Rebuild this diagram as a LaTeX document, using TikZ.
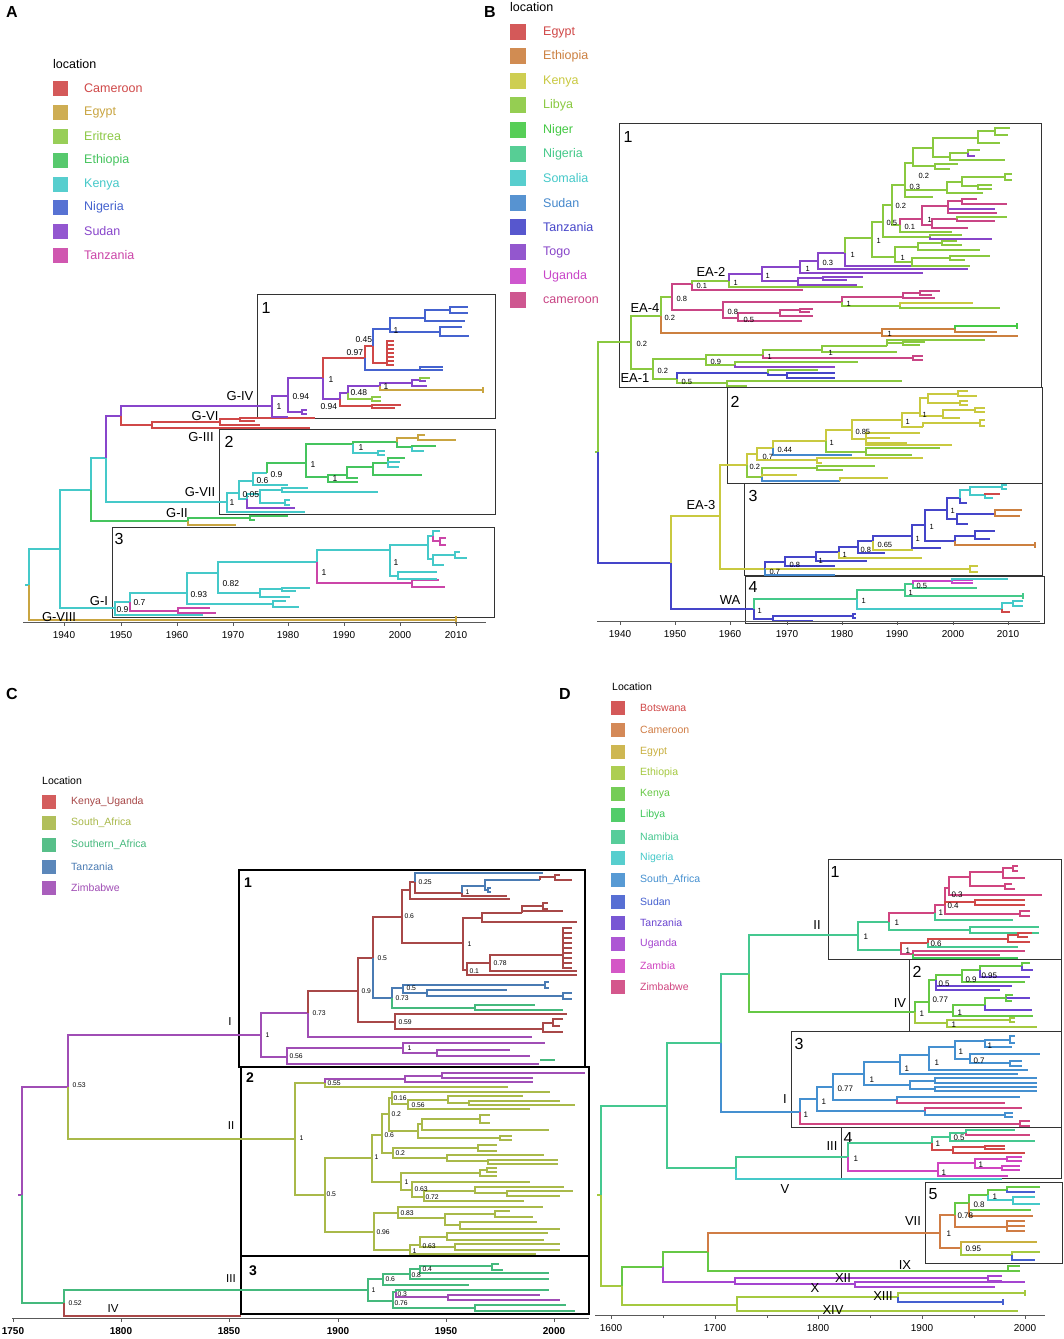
\documentclass[tikz,border=0pt]{standalone}
\usepackage{fontspec}
\setmainfont{Liberation Sans}
% panel A colours
\definecolor{cAcam}{HTML}{D04848}\definecolor{cAegy}{HTML}{C9A541}\definecolor{cAeri}{HTML}{8DC946}
\definecolor{cAeth}{HTML}{45C45E}\definecolor{cAken}{HTML}{45C9C9}\definecolor{cAnig}{HTML}{4563CF}
\definecolor{cAsud}{HTML}{8845CB}\definecolor{cAtan}{HTML}{CB45A8}
% panel B colours
\definecolor{cBegy}{HTML}{D04848}\definecolor{cBeth}{HTML}{CC8040}\definecolor{cBken}{HTML}{C9C940}
\definecolor{cBlib}{HTML}{8AC940}\definecolor{cBnir}{HTML}{45C945}\definecolor{cBnga}{HTML}{45C98A}
\definecolor{cBsom}{HTML}{45C9C9}\definecolor{cBsud}{HTML}{4588CC}\definecolor{cBtan}{HTML}{4545C9}
\definecolor{cBtog}{HTML}{8845C9}\definecolor{cBuga}{HTML}{C945C9}\definecolor{cBcam}{HTML}{C94585}
% panel C colours
\definecolor{cCku}{HTML}{A84848}\definecolor{cCkuL}{HTML}{D04C4C}\definecolor{cCsa}{HTML}{A9B94A}
\definecolor{cCsf}{HTML}{45B97D}\definecolor{cCtz}{HTML}{4A7BB3}\definecolor{cCzw}{HTML}{A04DB5}
% panel D colours
\definecolor{cDbot}{HTML}{D04848}\definecolor{cDcam}{HTML}{D07D45}\definecolor{cDegy}{HTML}{C9B040}
\definecolor{cDeth}{HTML}{A5C940}\definecolor{cDken}{HTML}{66C845}\definecolor{cDlib}{HTML}{40C85A}
\definecolor{cDnam}{HTML}{45C890}\definecolor{cDnga}{HTML}{45C9C9}\definecolor{cDsaf}{HTML}{4590D0}
\definecolor{cDsud}{HTML}{4560D0}\definecolor{cDtan}{HTML}{6A45D0}\definecolor{cDuga}{HTML}{A545D0}
\definecolor{cDzam}{HTML}{D045C0}\definecolor{cDzim}{HTML}{D04580}

\tikzset{
 br/.style={line width=1.2pt},
 acam/.style={br,draw=cAcam},aegy/.style={br,draw=cAegy},aeri/.style={br,draw=cAeri},aeth/.style={br,draw=cAeth},
 aken/.style={br,draw=cAken},anig/.style={br,draw=cAnig},asud/.style={br,draw=cAsud},atan/.style={br,draw=cAtan},
 begy/.style={br,draw=cBegy},beth/.style={br,draw=cBeth},bken/.style={br,draw=cBken},blib/.style={br,draw=cBlib},
 bnir/.style={br,draw=cBnir},bnga/.style={br,draw=cBnga},bsom/.style={br,draw=cBsom},bsud/.style={br,draw=cBsud},
 btan/.style={br,draw=cBtan},btog/.style={br,draw=cBtog},buga/.style={br,draw=cBuga},bcam/.style={br,draw=cBcam},
 cku/.style={br,draw=cCku},csa/.style={br,draw=cCsa},csf/.style={br,draw=cCsf},ctz/.style={br,draw=cCtz},czw/.style={br,draw=cCzw},
 dbot/.style={br,draw=cDbot},dcam/.style={br,draw=cDcam},degy/.style={br,draw=cDegy},deth/.style={br,draw=cDeth},
 dken/.style={br,draw=cDken},dlib/.style={br,draw=cDlib},dnam/.style={br,draw=cDnam},dnga/.style={br,draw=cDnga},
 dsaf/.style={br,draw=cDsaf},dsud/.style={br,draw=cDsud},dtan/.style={br,draw=cDtan},duga/.style={br,draw=cDuga},
 dzam/.style={br,draw=cDzam},dzim/.style={br,draw=cDzim},
 boxst/.style={draw=black!80,line width=1pt},
 boxC/.style={draw=black,line width=1.5pt},
 axl/.style={draw=black!65,line width=0.7pt},
 svA/.style={anchor=west,inner sep=0.3pt,font=\fontsize{8.5}{9}\selectfont},
 svB/.style={anchor=west,inner sep=0.3pt,font=\fontsize{7.5}{8}\selectfont},
 svC/.style={anchor=west,inner sep=0.3pt,font=\fontsize{6.8}{7}\selectfont},
 svD/.style={anchor=west,inner sep=0.3pt,font=\fontsize{8}{8}\selectfont},
 clA/.style={inner sep=0pt,font=\fontsize{13}{13}\selectfont},
 clC/.style={inner sep=0pt,font=\fontsize{11.5}{12}\selectfont},
 bxn/.style={inner sep=0pt,font=\fontsize{16}{16}\selectfont},
 bxnC/.style={inner sep=0pt,font=\fontsize{14}{14}\selectfont\bfseries},
 yr/.style={inner sep=0pt,font=\fontsize{10}{10}\selectfont},
 yrC/.style={inner sep=0pt,font=\fontsize{10}{10}\selectfont\bfseries},
 pl/.style={inner sep=0pt,font=\fontsize{16}{16}\selectfont\bfseries},
 legA/.style={anchor=west,inner sep=0pt,font=\fontsize{12.5}{13}\selectfont},
 legC/.style={anchor=west,inner sep=0pt,font=\fontsize{10.5}{11}\selectfont},
}
\newcounter{nn}
\newcommand\br[5]{\draw[#1] (#2,#3) |- (#4,#5);}
\newcommand\sv[4]{\stepcounter{nn}\node[#1] (n\arabic{nn}) at (#2,#3) {#4};}
\newcommand\lgit[7]{\fill[#3,fill opacity=0.9] (#1,#2-#7) rectangle ++(2*#7,2*#7);
 \stepcounter{nn}\node[#6,text=#3] (n\arabic{nn}) at (#4,#2) {#5};}
\newcommand\tk[4]{\draw[axl] (#1,#2)--(#1,#2+4);\stepcounter{nn}\node[#4] (n\arabic{nn}) at (#1,#2+13) {#3};}

\begin{document}
\begin{tikzpicture}[x=1pt,y=-1pt]
\useasboundingbox (0,0) rectangle (1064,1339);
\fill[white] (0,0) rectangle (1064,1339);

%================ PANEL A ================
\sv{pl}{12}{12}{A}
\sv{legA}{53}{64}{location}
\lgit{53}{88}{cAcam}{84}{Cameroon}{legA}{7.5}
\lgit{53}{112}{cAegy}{84}{Egypt}{legA}{7.5}
\lgit{53}{136}{cAeri}{84}{Eritrea}{legA}{7.5}
\lgit{53}{160}{cAeth}{84}{Ethiopia}{legA}{7.5}
\lgit{53}{184}{cAken}{84}{Kenya}{legA}{7.5}
\lgit{53}{207}{cAnig}{84}{Nigeria}{legA}{7.5}
\lgit{53}{231}{cAsud}{84}{Sudan}{legA}{7.5}
\lgit{53}{255}{cAtan}{84}{Tanzania}{legA}{7.5}

\draw[boxst] (257,294) rectangle (495,418);
\draw[boxst] (219,429) rectangle (495,514);
\draw[boxst] (112,527) rectangle (494,617);
\sv{bxn}{266}{308}{1}\sv{bxn}{229}{442}{2}\sv{bxn}{119}{539}{3}

\draw[aken] (25,585)--(29,585);
\br{aken}{29}{585}{60}{549}
\br{aegy}{29}{585}{456}{620}
\draw[aegy] (456,616)--(456,624);
\br{aken}{60}{549}{91}{490}
\br{aken}{60}{549}{115}{608}
\br{aken}{91}{490}{106}{458}
\br{aeth}{91}{490}{188}{521}
\br{asud}{106}{458}{121}{416}
\br{aken}{106}{458}{227}{502}
\br{asud}{121}{416}{272}{406}
\br{acam}{121}{416}{152}{425}
\br{acam}{152}{425}{220}{422}
\br{acam}{152}{425}{310}{428}
\br{acam}{220}{422}{240}{419}
\br{acam}{220}{422}{260}{425}
\br{acam}{240}{419}{315}{418}
\br{acam}{240}{419}{255}{421}
\br{aeth}{188}{521}{250}{518}
\br{aegy}{188}{521}{236}{525}
\br{aeth}{250}{518}{288}{516}
\br{aeth}{250}{518}{255}{520}
% box 1
\br{asud}{272}{406}{288}{396}
\br{asud}{272}{406}{288}{417}
\br{asud}{288}{396}{323}{378}
\br{asud}{288}{396}{302}{412}
\br{asud}{302}{412}{307}{410}
\br{asud}{302}{412}{307}{414}
\br{acam}{323}{378}{365}{358}
\br{asud}{323}{378}{340}{399}
\br{acam}{365}{358}{373}{346}
\br{anig}{365}{358}{443}{370}
\br{anig}{420}{370}{443}{367}
\br{anig}{373}{346}{390}{329}
\br{acam}{373}{346}{387}{363}
\foreach \yy in {341,345,349,353,357,361,365} {\br{acam}{387}{363}{394}{\yy}}
\br{anig}{390}{329}{425}{318}
\br{anig}{390}{329}{440}{332}
\br{anig}{425}{318}{450}{310}
\br{anig}{425}{318}{465}{321}
\br{anig}{450}{310}{468}{307}
\br{anig}{450}{310}{468}{313}
\br{anig}{440}{332}{462}{327}
\br{anig}{440}{332}{469}{336}
\br{asud}{340}{399}{348}{393}
\br{acam}{340}{399}{372}{406}
\br{acam}{372}{406}{401}{405}
\br{acam}{372}{406}{395}{408}
\br{asud}{348}{393}{380}{386}
\br{aeri}{348}{393}{372}{399}
\br{aeri}{372}{399}{381}{397}
\br{aeri}{372}{399}{381}{401}
\br{asud}{380}{386}{412}{383}
\br{aegy}{380}{386}{483}{390}
\draw[aegy] (483,387)--(483,393);
\br{asud}{412}{383}{420}{380}
\br{asud}{412}{383}{427}{386}
\br{aeri}{420}{380}{430}{378}
\br{asud}{420}{380}{426}{381}
% box 2
\br{aken}{227}{502}{239}{493}
\br{aken}{227}{502}{305}{512}
\br{aken}{239}{493}{253}{481}
\br{aken}{239}{493}{247}{499}
\br{aken}{247}{499}{260}{494}
\br{asud}{247}{499}{295}{508}
\br{aken}{260}{494}{282}{490}
\br{aken}{260}{494}{285}{503}
\br{aken}{282}{490}{308}{488}
\br{aken}{282}{490}{378}{492}
\br{aken}{285}{503}{290}{500}
\br{aken}{285}{503}{290}{505}
\br{aken}{253}{481}{267}{473}
\br{aken}{253}{481}{288}{485}
\br{aeth}{267}{473}{306}{463}
\br{aeth}{306}{463}{353}{444}
\br{aeth}{306}{463}{328}{477}
\br{aeth}{353}{444}{397}{442}
\br{aken}{353}{444}{378}{453}
\br{aken}{378}{453}{385}{451}
\br{aken}{378}{453}{385}{455}
\br{aegy}{397}{442}{418}{438}
\br{aeth}{397}{442}{412}{447}
\br{aegy}{418}{438}{425}{435}
\br{aegy}{418}{438}{456}{440}
\br{aeth}{412}{447}{436}{446}
\br{aken}{412}{447}{424}{451}
\br{aeth}{328}{477}{347}{475}
\br{aeth}{328}{477}{358}{482}
\br{aeth}{347}{475}{373}{467}
\br{aeth}{347}{475}{358}{478}
\br{aeth}{373}{467}{388}{463}
\br{aeth}{373}{467}{422}{475}
\br{aeth}{388}{463}{405}{458}
\br{aken}{388}{463}{400}{462}
\br{aken}{388}{463}{399}{467}
% box 3
\br{aken}{115}{608}{130}{602}
\br{aken}{115}{608}{203}{615}
\br{aken}{130}{602}{187}{593}
\br{atan}{130}{602}{178}{611}
\br{atan}{178}{611}{210}{608}
\br{atan}{178}{611}{216}{613}
\br{aken}{187}{593}{218}{573}
\br{aken}{187}{593}{273}{604}
\br{aken}{273}{604}{286}{601}
\br{aken}{273}{604}{299}{607}
\br{aken}{218}{573}{317}{562}
\br{aken}{218}{573}{260}{593}
\br{aken}{260}{593}{282}{589}
\br{aken}{260}{593}{290}{597}
\br{aken}{282}{589}{310}{588}
\br{aken}{282}{589}{296}{591}
\br{aken}{317}{562}{390}{550}
\br{atan}{317}{562}{412}{583}
\br{atan}{412}{583}{439}{580}
\br{atan}{412}{583}{445}{587}
\br{aken}{390}{550}{428}{545}
\br{aken}{390}{550}{398}{576}
\br{aken}{398}{576}{437}{572}
\br{aken}{398}{576}{437}{579}
\br{aken}{428}{545}{433}{536}
\br{aken}{428}{545}{433}{559}
\br{aken}{433}{536}{440}{531}
\br{atan}{433}{536}{440}{541}
\br{atan}{440}{541}{446}{538}
\br{atan}{440}{541}{446}{545}
\br{aken}{433}{559}{455}{555}
\br{aken}{433}{559}{444}{565}
\br{aken}{455}{555}{467}{558}
\br{aken}{455}{555}{460}{552}
% support values A
\sv{svA}{276}{407}{1}\sv{svA}{292}{397}{0.94}\sv{svA}{328}{380}{1}\sv{svA}{346}{353}{0.97}
\sv{svA}{355}{340}{0.45}\sv{svA}{393}{331}{1}\sv{svA}{320}{407}{0.94}\sv{svA}{350}{393}{0.48}
\sv{svA}{383}{387}{1}
\sv{svA}{358}{448}{1}\sv{svA}{310}{465}{1}\sv{svA}{270}{475}{0.9}\sv{svA}{256}{481}{0.6}
\sv{svA}{332}{479}{1}\sv{svA}{242}{495}{0.05}\sv{svA}{229}{503}{1}
\sv{svA}{393}{563}{1}\sv{svA}{321}{573}{1}\sv{svA}{222}{584}{0.82}\sv{svA}{190}{595}{0.93}
\sv{svA}{133}{603}{0.7}\sv{svA}{116}{610}{0.9}
% clade labels A
\sv{clA}{240}{396}{G-IV}\sv{clA}{205}{416}{G-VI}\sv{clA}{201}{437}{G-III}\sv{clA}{200}{492}{G-VII}
\sv{clA}{177}{513}{G-II}\sv{clA}{99}{601}{G-I}\sv{clA}{59}{617}{G-VIII}
% axis A
\draw[axl] (23,622)--(486,622);
\tk{64}{622}{1940}{yr}\tk{121}{622}{1950}{yr}\tk{177}{622}{1960}{yr}\tk{233}{622}{1970}{yr}
\tk{288}{622}{1980}{yr}\tk{344}{622}{1990}{yr}\tk{400}{622}{2000}{yr}\tk{456}{622}{2010}{yr}

%================ PANEL B ================
\sv{pl}{490}{12}{B}
\sv{legA}{510}{7}{location}
\lgit{510}{32}{cBegy}{543}{Egypt}{legA}{8}
\lgit{510}{56}{cBeth}{543}{Ethiopia}{legA}{8}
\lgit{510}{81}{cBken}{543}{Kenya}{legA}{8}
\lgit{510}{105}{cBlib}{543}{Libya}{legA}{8}
\lgit{510}{130}{cBnir}{543}{Niger}{legA}{8}
\lgit{510}{154}{cBnga}{543}{Nigeria}{legA}{8}
\lgit{510}{178}{cBsom}{543}{Somalia}{legA}{8}
\lgit{510}{203}{cBsud}{543}{Sudan}{legA}{8}
\lgit{510}{227}{cBtan}{543}{Tanzania}{legA}{8}
\lgit{510}{252}{cBtog}{543}{Togo}{legA}{8}
\lgit{510}{276}{cBuga}{543}{Uganda}{legA}{8}
\lgit{510}{300}{cBcam}{543}{cameroon}{legA}{8}

\draw[boxst] (619,123) rectangle (1041,387);
\draw[boxst] (727,387) rectangle (1042,483);
\draw[boxst] (744,483) rectangle (1042,575);
\draw[boxst] (745,576) rectangle (1044,623);
\sv{bxn}{628}{137}{1}\sv{bxn}{735}{402}{2}\sv{bxn}{753}{496}{3}\sv{bxn}{753}{587}{4}

\draw[blib] (595,452)--(598,452);
\br{blib}{598}{452}{631}{342}
\br{btan}{598}{452}{671}{563}
\br{blib}{631}{342}{661}{316}
\br{blib}{631}{342}{653}{369}
\br{blib}{661}{316}{672}{297}
\br{beth}{661}{316}{882}{333}
\br{bcam}{672}{297}{692}{284}
\br{bcam}{672}{297}{723}{310}
\br{blib}{692}{284}{729}{281}
\br{bcam}{692}{284}{803}{290}
\br{btog}{729}{281}{762}{274}
\br{blib}{729}{281}{863}{287}
\br{btog}{762}{274}{800}{267}
\br{btog}{762}{274}{798}{281}
\br{btog}{798}{281}{823}{278}
\br{btog}{798}{281}{857}{285}
\br{btog}{823}{278}{863}{277}
\br{btog}{823}{278}{847}{280}
\br{btog}{800}{267}{818}{261}
\br{btog}{800}{267}{923}{273}
\br{btog}{818}{261}{845}{253}
\br{btog}{818}{261}{968}{269}
\br{blib}{845}{253}{872}{238}
\br{btog}{845}{253}{937}{266}
\br{blib}{872}{238}{883}{222}
\br{blib}{872}{238}{895}{257}
\br{blib}{895}{257}{918}{247}
\br{blib}{895}{257}{912}{262}
\br{blib}{918}{247}{942}{243}
\br{blib}{918}{247}{980}{250}
\br{blib}{942}{243}{957}{241}
\br{blib}{942}{243}{962}{245}
\br{blib}{912}{262}{950}{258}
\br{blib}{912}{262}{970}{266}
\br{blib}{950}{258}{990}{256}
\br{blib}{950}{258}{965}{260}
\br{blib}{883}{222}{892}{205}
\br{blib}{883}{222}{930}{237}
\br{blib}{930}{237}{962}{235}
\br{btog}{930}{237}{992}{239}
\br{blib}{892}{205}{905}{185}
\br{blib}{892}{205}{900}{225}
\br{bcam}{900}{225}{922}{219}
\br{blib}{900}{225}{952}{232}
\br{bcam}{922}{219}{948}{206}
\br{bcam}{922}{219}{932}{225}
\br{bcam}{948}{206}{962}{201}
\br{btog}{948}{206}{995}{209}
\br{bcam}{948}{206}{997}{213}
\br{bcam}{962}{201}{977}{199}
\br{bcam}{962}{201}{1007}{204}
\br{bcam}{932}{225}{957}{219}
\br{bcam}{932}{225}{968}{228}
\br{blib}{957}{219}{1007}{217}
\br{bcam}{957}{219}{995}{221}
\br{blib}{905}{185}{947}{190}
\br{blib}{905}{185}{933}{197}
\br{blib}{947}{190}{962}{182}
\br{blib}{947}{190}{983}{193}
\br{blib}{962}{182}{1005}{177}
\br{blib}{962}{182}{978}{186}
\br{blib}{1005}{177}{1012}{174}
\br{blib}{1005}{177}{1012}{180}
\br{blib}{978}{186}{992}{185}
\br{blib}{978}{186}{992}{189}
\br{blib}{905}{185}{913}{163}
\br{blib}{913}{163}{933}{148}
\br{blib}{913}{163}{935}{166}
\br{blib}{933}{148}{978}{138}
\br{blib}{933}{148}{950}{157}
\br{blib}{978}{138}{995}{131}
\br{blib}{978}{138}{1000}{143}
\br{blib}{995}{131}{1010}{128}
\br{blib}{995}{131}{1008}{135}
\br{blib}{950}{157}{968}{153}
\br{blib}{950}{157}{1005}{160}
\br{btog}{968}{153}{975}{156}
\br{blib}{968}{153}{980}{150}
\br{blib}{935}{166}{958}{164}
\br{blib}{935}{166}{950}{169}
% orange
\br{beth}{882}{333}{955}{329}
\br{beth}{882}{333}{1018}{336}
\br{bnir}{955}{329}{1017}{326}
\br{beth}{955}{329}{997}{332}
\draw[bnir] (1017,323)--(1017,329);
% pink 0.8
\br{bcam}{723}{310}{842}{302}
\br{bcam}{723}{310}{738}{318}
\br{bcam}{842}{302}{903}{297}
\br{blib}{842}{302}{900}{306}
\br{bcam}{903}{297}{920}{293}
\br{bcam}{903}{297}{935}{298}
\br{bcam}{920}{293}{940}{291}
\br{bcam}{920}{293}{932}{295}
\br{bken}{900}{306}{973}{303}
\br{blib}{900}{306}{1000}{308}
\br{bcam}{738}{318}{780}{313}
\br{bcam}{738}{318}{802}{321}
\br{bcam}{780}{313}{800}{310}
\br{bcam}{780}{313}{813}{316}
\br{bcam}{800}{310}{813}{309}
\br{bcam}{800}{310}{810}{312}
% EA-1
\br{blib}{653}{369}{706}{359}
\br{blib}{653}{369}{677}{379}
\br{blib}{706}{359}{763}{355}
\br{blib}{706}{359}{735}{365}
\br{blib}{763}{355}{822}{350}
\br{bcam}{763}{355}{913}{358}
\br{bcam}{913}{358}{923}{356}
\br{bcam}{913}{358}{923}{360}
\br{blib}{822}{350}{887}{346}
\br{blib}{822}{350}{897}{352}
\br{blib}{887}{346}{985}{340}
\br{blib}{887}{346}{903}{343}
\br{blib}{903}{343}{925}{342}
\br{blib}{903}{343}{920}{345}
\br{blib}{735}{365}{858}{362}
\br{btog}{735}{365}{835}{367}
\br{btan}{677}{379}{768}{373}
\br{blib}{677}{379}{727}{383}
\br{btan}{768}{373}{787}{375}
\br{blib}{768}{373}{818}{370}
\br{btan}{787}{375}{835}{373}
\br{btan}{787}{375}{835}{378}
\br{blib}{727}{383}{902}{381}
\br{blib}{727}{383}{747}{386}
% EA-3 box 2
\br{bken}{671}{563}{720}{516}
\br{btan}{671}{563}{754}{609}
\br{bken}{720}{516}{747}{465}
\br{bken}{720}{516}{765}{569}
\br{bken}{747}{465}{757}{454}
\br{blib}{747}{465}{762}{477}
\br{bken}{757}{454}{773}{448}
\br{bken}{757}{454}{817}{460}
\br{bken}{817}{460}{923}{458}
\br{bken}{817}{460}{822}{463}
\br{bken}{773}{448}{826}{441}
\br{bsud}{773}{448}{852}{455}
\br{bken}{826}{441}{852}{430}
\br{blib}{826}{441}{866}{452}
\br{blib}{866}{452}{940}{448}
\br{blib}{866}{452}{912}{455}
\br{bken}{852}{430}{902}{420}
\br{bken}{852}{430}{866}{439}
\br{bken}{866}{439}{920}{433}
\br{bken}{866}{439}{890}{438}
\br{bken}{866}{439}{907}{443}
\br{bken}{866}{439}{952}{445}
\br{bken}{902}{420}{920}{413}
\br{bken}{902}{420}{923}{427}
\br{bken}{920}{413}{928}{398}
\br{bken}{920}{413}{943}{416}
\br{bken}{928}{398}{958}{394}
\br{bken}{928}{398}{960}{403}
\br{bken}{958}{394}{968}{391}
\br{bken}{958}{394}{977}{396}
\br{bken}{960}{403}{968}{401}
\br{bken}{960}{403}{968}{405}
\br{bken}{943}{416}{975}{410}
\br{bken}{943}{416}{960}{418}
\br{bken}{975}{410}{985}{408}
\br{bken}{975}{410}{985}{412}
\br{bken}{923}{427}{980}{423}
\br{bken}{980}{423}{985}{420}
\br{bken}{980}{423}{985}{426}
\br{blib}{762}{477}{817}{468}
\br{bsud}{762}{477}{840}{481}
\br{bken}{762}{477}{797}{475}
\br{blib}{817}{468}{875}{466}
\br{blib}{817}{468}{843}{470}
\br{bken}{840}{481}{888}{478}
% box 3
\br{btan}{765}{569}{785}{562}
\draw[bken] (765,569)--(970,569);
\br{bsud}{765}{569}{835}{575}
\br{bken}{970}{569}{978}{566}
\br{bken}{970}{569}{978}{572}
\br{btan}{785}{562}{816}{557}
\br{btan}{785}{562}{835}{566}
\br{btan}{816}{557}{839}{552}
\br{btan}{816}{557}{867}{561}
\br{btan}{839}{552}{858}{547}
\br{bken}{839}{552}{922}{558}
\br{btan}{858}{547}{873}{541}
\br{btan}{858}{547}{885}{553}
\br{btan}{873}{541}{912}{536}
\br{bken}{873}{541}{913}{550}
\br{btan}{912}{536}{925}{525}
\br{btan}{912}{536}{941}{548}
\br{btan}{925}{525}{947}{510}
\br{btan}{925}{525}{955}{541}
\br{btan}{947}{510}{960}{498}
\br{btan}{947}{510}{957}{519}
\br{bsom}{960}{498}{970}{490}
\br{btan}{960}{498}{967}{503}
\br{bsom}{970}{490}{1002}{487}
\br{bsom}{970}{490}{985}{495}
\br{begy}{985}{495}{1000}{494}
\br{bsom}{985}{495}{993}{498}
\br{bsom}{1002}{487}{1007}{485}
\br{bsom}{1002}{487}{1007}{489}
\br{btan}{957}{519}{995}{514}
\br{btan}{957}{519}{968}{524}
\br{beth}{995}{514}{1022}{510}
\br{beth}{995}{514}{1020}{516}
\br{btan}{955}{541}{975}{536}
\br{beth}{955}{541}{1035}{545}
\br{btan}{975}{536}{995}{531}
\br{btan}{975}{536}{990}{539}
\draw[beth] (1035,542)--(1035,548);
% WA
\br{bnga}{754}{609}{857}{599}
\br{btan}{754}{609}{773}{619}
\br{btan}{773}{619}{853}{616}
\br{btan}{773}{619}{813}{621}
\br{btan}{853}{616}{856}{614}
\br{btan}{853}{616}{856}{618}
\br{bnga}{857}{599}{905}{590}
\br{bsom}{857}{599}{1002}{609}
\br{bnga}{905}{590}{913}{584}
\br{bnga}{905}{590}{1023}{596}
\br{buga}{913}{584}{952}{581}
\br{bnga}{913}{584}{977}{588}
\br{buga}{952}{581}{973}{580}
\br{bsom}{952}{581}{1008}{579}
\br{buga}{952}{581}{973}{583}
\draw[bnga] (1023,593)--(1023,599);
\br{bsom}{1002}{609}{1013}{603}
\br{begy}{1002}{609}{1010}{612}
\br{bsom}{1013}{603}{1023}{601}
\br{bsom}{1013}{603}{1023}{606}
% support values B
\sv{svB}{636}{344}{0.2}\sv{svB}{664}{318}{0.2}\sv{svB}{676}{299}{0.8}\sv{svB}{696}{286}{0.1}
\sv{svB}{733}{283}{1}\sv{svB}{765}{276}{1}\sv{svB}{805}{269}{1}\sv{svB}{822}{263}{0.3}
\sv{svB}{850}{255}{1}\sv{svB}{876}{241}{1}\sv{svB}{886}{223}{0.5}\sv{svB}{895}{206}{0.2}
\sv{svB}{904}{227}{0.1}\sv{svB}{927}{220}{1}\sv{svB}{909}{187}{0.3}\sv{svB}{918}{176}{0.2}
\sv{svB}{900}{258}{1}\sv{svB}{727}{312}{0.8}\sv{svB}{846}{304}{1}\sv{svB}{743}{320}{0.5}
\sv{svB}{887}{334}{1}\sv{svB}{657}{371}{0.2}\sv{svB}{710}{362}{0.9}\sv{svB}{767}{357}{1}
\sv{svB}{828}{353}{1}\sv{svB}{681}{382}{0.5}
\sv{svB}{749}{467}{0.2}\sv{svB}{762}{457}{0.7}\sv{svB}{777}{450}{0.44}\sv{svB}{829}{443}{1}
\sv{svB}{855}{432}{0.85}\sv{svB}{905}{422}{1}\sv{svB}{922}{415}{1}
\sv{svB}{769}{572}{0.7}\sv{svB}{789}{565}{0.8}\sv{svB}{818}{561}{1}\sv{svB}{842}{555}{1}
\sv{svB}{860}{550}{0.8}\sv{svB}{877}{545}{0.65}\sv{svB}{915}{539}{1}\sv{svB}{929}{527}{1}
\sv{svB}{950}{511}{1}\sv{svB}{916}{586}{0.5}\sv{svB}{908}{593}{1}\sv{svB}{861}{601}{1}
\sv{svB}{757}{611}{1}
% clade labels B
\sv{clA}{645}{308}{EA-4}\sv{clA}{635}{378}{EA-1}\sv{clA}{711}{272}{EA-2}
\sv{clA}{701}{505}{EA-3}\sv{clA}{730}{600}{WA}
% axis B
\draw[axl] (597,621)--(1040,621);
\tk{620}{621}{1940}{yr}\tk{675}{621}{1950}{yr}\tk{730}{621}{1960}{yr}\tk{787}{621}{1970}{yr}
\tk{842}{621}{1980}{yr}\tk{897}{621}{1990}{yr}\tk{953}{621}{2000}{yr}\tk{1008}{621}{2010}{yr}

%================ PANEL C ================
\sv{pl}{12}{694}{C}
\sv{legC}{42}{781}{Location}
\lgit{42}{802}{cCkuL}{71}{\textcolor{cCku}{Kenya\_Uganda}}{legC}{7}
\lgit{42}{823}{cCsa}{71}{South\_Africa}{legC}{7}
\lgit{42}{845}{cCsf}{71}{Southern\_Africa}{legC}{7}
\lgit{42}{867}{cCtz}{71}{Tanzania}{legC}{7}
\lgit{42}{888}{cCzw}{71}{Zimbabwe}{legC}{7}

\draw[boxC] (239,870) rectangle (585,1067);
\draw[boxC] (241,1067) rectangle (589,1256);
\draw[boxC] (241,1256) rectangle (589,1314);
\sv{bxnC}{248}{883}{1}\sv{bxnC}{250}{1078}{2}\sv{bxnC}{253}{1271}{3}

\draw[czw] (18,1195)--(22,1195);
\br{czw}{22}{1195}{68}{1087}
\br{csf}{22}{1195}{64}{1303}
\br{czw}{68}{1087}{261}{1035}
\br{csa}{68}{1087}{295}{1139}
\br{csf}{64}{1303}{368}{1290}
\br{cku}{64}{1303}{241}{1316}
% box 1
\br{czw}{261}{1035}{308}{1013}
\br{czw}{261}{1035}{287}{1057}
\br{cku}{308}{1013}{358}{991}
\br{czw}{308}{1013}{532}{1037}
\br{cku}{358}{991}{373}{958}
\br{cku}{358}{991}{395}{1022}
\br{cku}{373}{958}{402}{917}
\br{ctz}{373}{958}{392}{998}
\br{cku}{402}{917}{410}{890}
\br{cku}{402}{917}{463}{943}
\br{cku}{410}{890}{415}{882}
\br{cku}{410}{890}{510}{899}
\br{ctz}{415}{882}{543}{873}
\br{cku}{415}{882}{462}{893}
\br{ctz}{462}{893}{485}{886}
\br{cku}{462}{893}{507}{896}
\br{ctz}{485}{886}{540}{880}
\br{ctz}{485}{886}{488}{890}
\br{ctz}{488}{890}{491}{888}
\br{ctz}{488}{890}{491}{892}
\br{cku}{540}{880}{555}{877}
\br{cku}{555}{877}{560}{875}
\br{cku}{555}{877}{572}{880}
\br{cku}{463}{943}{482}{918}
\br{cku}{463}{943}{467}{970}
\br{cku}{482}{918}{522}{913}
\br{cku}{482}{918}{577}{922}
\br{cku}{522}{913}{543}{906}
\br{cku}{522}{913}{563}{911}
\br{cku}{543}{906}{548}{903}
\br{cku}{543}{906}{548}{909}
\br{cku}{467}{970}{490}{963}
\br{cku}{467}{970}{577}{975}
\br{cku}{490}{963}{563}{955}
\br{cku}{490}{963}{577}{971}
\foreach \yy in {928,933,938,943,948,953,958,963,968} {\br{cku}{563}{955}{572}{\yy}}
\br{ctz}{392}{998}{403}{988}
\br{csf}{392}{998}{475}{1008}
\br{ctz}{403}{988}{545}{985}
\br{ctz}{403}{988}{427}{993}
\br{ctz}{545}{985}{549}{982}
\br{ctz}{545}{985}{549}{988}
\br{ctz}{427}{993}{507}{990}
\br{ctz}{427}{993}{563}{996}
\br{ctz}{563}{996}{572}{993}
\br{ctz}{563}{996}{572}{999}
\br{csf}{475}{1008}{535}{1005}
\br{csf}{475}{1008}{563}{1010}
\br{cku}{395}{1022}{567}{1014}
\br{cku}{395}{1022}{543}{1029}
\br{cku}{543}{1029}{553}{1023}
\br{cku}{543}{1029}{563}{1032}
\br{cku}{553}{1023}{563}{1019}
\br{cku}{553}{1023}{560}{1026}
\br{czw}{287}{1057}{403}{1048}
\br{czw}{287}{1057}{539}{1064}
\br{czw}{403}{1048}{545}{1043}
\br{czw}{403}{1048}{437}{1053}
\br{czw}{437}{1053}{510}{1050}
\br{czw}{437}{1053}{530}{1056}
\draw[csf] (540,1060)--(555,1060);
% box 2
\br{csa}{295}{1139}{325}{1083}
\br{csa}{295}{1139}{325}{1195}
\br{czw}{325}{1083}{405}{1079}
\br{csa}{325}{1083}{508}{1087}
\br{czw}{405}{1079}{442}{1076}
\br{czw}{405}{1079}{533}{1082}
\br{czw}{442}{1076}{585}{1073}
\br{czw}{442}{1076}{533}{1078}
\br{csa}{325}{1195}{372}{1158}
\br{csa}{325}{1195}{374}{1232}
\br{csa}{372}{1158}{382}{1135}
\br{csa}{372}{1158}{401}{1182}
\br{csa}{382}{1135}{389}{1114}
\br{csa}{382}{1135}{393}{1153}
\br{csa}{389}{1114}{392}{1098}
\br{csa}{389}{1114}{418}{1131}
\br{csa}{392}{1098}{550}{1092}
\br{csa}{392}{1098}{408}{1104}
\br{csa}{408}{1104}{448}{1100}
\br{csa}{408}{1104}{530}{1109}
\br{csa}{448}{1100}{523}{1096}
\br{csa}{448}{1100}{469}{1103}
\br{csa}{469}{1103}{560}{1101}
\br{csa}{469}{1103}{575}{1105}
\br{csa}{418}{1131}{422}{1124}
\br{csa}{418}{1131}{500}{1138}
\br{csa}{422}{1124}{480}{1119}
\br{csa}{422}{1124}{549}{1130}
\br{csa}{480}{1119}{490}{1115}
\br{csa}{480}{1119}{490}{1123}
\br{csa}{500}{1138}{512}{1136}
\br{csa}{500}{1138}{512}{1140}
\br{csa}{393}{1153}{478}{1148}
\br{csa}{393}{1153}{447}{1158}
\br{csa}{478}{1148}{497}{1145}
\br{csa}{478}{1148}{497}{1151}
\br{csa}{447}{1158}{544}{1155}
\br{csa}{447}{1158}{488}{1161}
\br{csa}{488}{1161}{558}{1160}
\br{csa}{488}{1161}{558}{1164}
\br{csa}{401}{1182}{480}{1173}
\br{csa}{401}{1182}{412}{1190}
\br{csa}{480}{1173}{487}{1170}
\br{csa}{480}{1173}{497}{1176}
\br{csa}{487}{1170}{497}{1168}
\br{csa}{487}{1170}{497}{1172}
\br{csa}{412}{1190}{530}{1182}
\br{csa}{412}{1190}{424}{1197}
\br{csa}{424}{1197}{475}{1191}
\br{csa}{424}{1197}{524}{1201}
\br{csa}{475}{1191}{564}{1187}
\br{csa}{475}{1191}{507}{1193}
\br{csa}{507}{1193}{573}{1191}
\br{csa}{507}{1193}{560}{1196}
\br{csa}{374}{1232}{398}{1213}
\br{csa}{374}{1232}{410}{1250}
\br{csa}{398}{1213}{543}{1207}
\br{csa}{398}{1213}{445}{1218}
\br{csa}{445}{1218}{495}{1214}
\br{csa}{445}{1218}{460}{1225}
\br{csa}{495}{1214}{510}{1211}
\br{csa}{495}{1214}{533}{1217}
\br{csa}{460}{1225}{537}{1222}
\br{csa}{460}{1225}{560}{1229}
\br{csa}{410}{1250}{420}{1245}
\br{csa}{410}{1250}{536}{1254}
\br{csa}{420}{1245}{447}{1237}
\br{csa}{420}{1245}{455}{1247}
\br{csa}{447}{1237}{548}{1233}
\br{csa}{447}{1237}{544}{1240}
\br{csa}{455}{1247}{560}{1244}
\br{csa}{455}{1247}{560}{1250}
% box 3
\br{csf}{368}{1290}{383}{1279}
\br{csf}{368}{1290}{393}{1301}
\br{csf}{383}{1279}{410}{1274}
\br{csf}{383}{1279}{469}{1285}
\br{csf}{410}{1274}{420}{1269}
\br{csf}{410}{1274}{549}{1279}
\br{csf}{420}{1269}{492}{1266}
\br{csf}{420}{1269}{549}{1273}
\br{csf}{492}{1266}{499}{1264}
\br{csf}{492}{1266}{503}{1270}
\br{csf}{393}{1301}{396}{1292}
\br{csf}{393}{1301}{475}{1308}
\br{csf}{396}{1292}{549}{1290}
\br{czw}{396}{1292}{448}{1297}
\br{czw}{448}{1297}{540}{1295}
\br{czw}{448}{1297}{560}{1300}
\br{csf}{475}{1308}{566}{1305}
\br{csf}{475}{1308}{575}{1311}
% support values C
\sv{svC}{265}{1035}{1}\sv{svC}{312}{1013}{0.73}\sv{svC}{361}{991}{0.9}\sv{svC}{377}{958}{0.5}
\sv{svC}{404}{916}{0.6}\sv{svC}{418}{882}{0.25}\sv{svC}{465}{892}{1}\sv{svC}{467}{944}{1}
\sv{svC}{493}{963}{0.78}\sv{svC}{469}{971}{0.1}\sv{svC}{406}{988}{0.5}\sv{svC}{395}{998}{0.73}
\sv{svC}{398}{1022}{0.59}\sv{svC}{407}{1048}{1}\sv{svC}{289}{1056}{0.56}
\sv{svC}{72}{1085}{0.53}\sv{svC}{327}{1083}{0.55}\sv{svC}{299}{1138}{1}\sv{svC}{393}{1098}{0.16}
\sv{svC}{411}{1105}{0.56}\sv{svC}{391}{1114}{0.2}\sv{svC}{384}{1135}{0.6}\sv{svC}{395}{1153}{0.2}
\sv{svC}{374}{1157}{1}\sv{svC}{404}{1182}{1}\sv{svC}{414}{1189}{0.63}\sv{svC}{425}{1197}{0.72}
\sv{svC}{326}{1194}{0.5}\sv{svC}{400}{1213}{0.83}\sv{svC}{376}{1232}{0.96}\sv{svC}{422}{1246}{0.63}
\sv{svC}{412}{1251}{1}\sv{svC}{422}{1269}{0.4}\sv{svC}{411}{1275}{0.8}\sv{svC}{385}{1279}{0.6}
\sv{svC}{371}{1290}{1}\sv{svC}{397}{1294}{0.3}\sv{svC}{394}{1303}{0.76}\sv{svC}{68}{1303}{0.52}
% clade labels C
\sv{clC}{230}{1022}{I}\sv{clC}{231}{1126}{II}\sv{clC}{231}{1279}{III}\sv{clC}{113}{1309}{IV}
% axis C
\draw[axl] (12,1318)--(589,1318);
\tk{13}{1318}{1750}{yrC}\tk{121}{1318}{1800}{yrC}\tk{229}{1318}{1850}{yrC}
\tk{338}{1318}{1900}{yrC}\tk{446}{1318}{1950}{yrC}\tk{554}{1318}{2000}{yrC}

%================ PANEL D ================
\sv{pl}{565}{694}{D}
\sv{legC}{612}{687}{Location}
\lgit{611}{708}{cDbot}{640}{Botswana}{legC}{7}
\lgit{611}{730}{cDcam}{640}{Cameroon}{legC}{7}
\lgit{611}{752}{cDegy}{640}{Egypt}{legC}{7}
\lgit{611}{773}{cDeth}{640}{Ethiopia}{legC}{7}
\lgit{611}{794}{cDken}{640}{Kenya}{legC}{7}
\lgit{611}{815}{cDlib}{640}{Libya}{legC}{7}
\lgit{611}{837}{cDnam}{640}{Namibia}{legC}{7}
\lgit{611}{858}{cDnga}{640}{Nigeria}{legC}{7}
\lgit{611}{880}{cDsaf}{640}{South\_Africa}{legC}{7}
\lgit{611}{902}{cDsud}{640}{Sudan}{legC}{7}
\lgit{611}{923}{cDtan}{640}{Tanzania}{legC}{7}
\lgit{611}{944}{cDuga}{640}{Uganda}{legC}{7}
\lgit{611}{966}{cDzam}{640}{Zambia}{legC}{7}
\lgit{611}{987}{cDzim}{640}{Zimbabwe}{legC}{7}

\draw[boxst] (828,859) rectangle (1061,959);
\draw[boxst] (909,959) rectangle (1061,1031);
\draw[boxst] (791,1031) rectangle (1061,1127);
\draw[boxst] (841,1127) rectangle (1061,1178);
\draw[boxst] (925,1182) rectangle (1062,1263);
\sv{bxn}{835}{872}{1}\sv{bxn}{917}{972}{2}\sv{bxn}{799}{1044}{3}\sv{bxn}{848}{1138}{4}\sv{bxn}{933}{1194}{5}

\draw[deth] (597,1195)--(601,1195);
\br{dnam}{601}{1195}{667}{1106}
\br{deth}{601}{1195}{622}{1286}
\br{dnam}{667}{1106}{721}{1043}
\br{dnam}{667}{1106}{736}{1168}
\br{dnam}{721}{1043}{749}{974}
\br{dsaf}{721}{1043}{800}{1112}
\br{dnam}{749}{974}{858}{935}
\br{dken}{749}{974}{915}{1012}
% box 1
\br{dnam}{858}{935}{889}{922}
\br{dnam}{858}{935}{901}{950}
\br{dzim}{889}{922}{935}{913}
\br{dnam}{889}{922}{970}{930}
\br{dnam}{970}{930}{1039}{927}
\br{dnam}{970}{930}{1039}{933}
\br{dzim}{935}{913}{945}{905}
\br{dnam}{935}{913}{1013}{920}
\br{dzim}{945}{905}{949}{888}
\br{dbot}{945}{905}{975}{902}
\br{dzim}{945}{905}{1020}{914}
\br{dbot}{975}{902}{1025}{900}
\br{dbot}{975}{902}{1025}{905}
\br{dzim}{1020}{914}{1030}{911}
\br{dzim}{1020}{914}{1030}{916}
\br{dzim}{949}{888}{970}{877}
\br{dzim}{949}{888}{1042}{895}
\br{dzim}{970}{877}{1003}{872}
\br{dzim}{970}{877}{1005}{886}
\br{dzim}{1003}{872}{1013}{868}
\br{dzim}{1003}{872}{1025}{878}
\br{dzim}{1013}{868}{1018}{866}
\br{dzim}{1013}{868}{1018}{871}
\br{dzim}{1005}{886}{1012}{884}
\br{dzim}{1005}{886}{1015}{889}
\br{dbot}{901}{950}{928}{943}
\br{dzim}{901}{950}{913}{954}
\br{dbot}{928}{943}{1008}{939}
\br{dnam}{928}{943}{1018}{947}
\br{dbot}{1008}{939}{1018}{935}
\br{dbot}{1008}{939}{1030}{942}
\br{dbot}{1018}{935}{1032}{933}
\br{dbot}{1018}{935}{1028}{937}
\br{dzim}{913}{954}{1025}{951}
\br{dzim}{913}{954}{1000}{955}
\br{dlib}{913}{954}{1018}{958}
% box 2
\br{dken}{915}{1012}{929}{1002}
\br{deth}{915}{1012}{947}{1023}
\br{dken}{929}{1002}{936}{980}
\br{dken}{929}{1002}{953}{1012}
\br{dken}{936}{980}{962}{975}
\br{dtan}{936}{980}{1012}{986}
\br{dtan}{936}{980}{1000}{990}
\br{dken}{962}{975}{980}{970}
\br{dken}{962}{975}{1025}{982}
\br{dken}{980}{970}{1022}{966}
\br{dtan}{980}{970}{1030}{977}
\br{dken}{1022}{966}{1030}{963}
\br{dtan}{1022}{966}{1033}{970}
\br{dken}{953}{1012}{985}{1005}
\br{dken}{953}{1012}{1033}{1016}
\br{dken}{985}{1005}{1006}{998}
\br{dtan}{985}{1005}{1032}{1010}
\br{dken}{1006}{998}{1013}{995}
\br{dtan}{1006}{998}{1030}{998}
\br{dken}{1006}{998}{1012}{1001}
\br{deth}{947}{1023}{1010}{1020}
\br{deth}{947}{1023}{1037}{1027}
\br{deth}{1010}{1020}{1015}{1018}
\br{deth}{1010}{1020}{1015}{1022}
% box 3
\br{dsaf}{800}{1112}{817}{1099}
\br{dzim}{800}{1112}{1020}{1124}
\br{dzim}{1020}{1124}{1030}{1121}
\br{dzim}{1020}{1124}{1030}{1126}
\br{dsaf}{817}{1099}{833}{1087}
\br{dsaf}{817}{1099}{925}{1111}
\br{dzim}{925}{1111}{1022}{1108}
\br{dsaf}{925}{1111}{1005}{1115}
\br{dsaf}{1005}{1115}{1013}{1113}
\br{dsaf}{1005}{1115}{1013}{1117}
\br{dsaf}{833}{1087}{864}{1074}
\br{dsaf}{833}{1087}{897}{1100}
\br{dsaf}{897}{1100}{1020}{1097}
\br{dzim}{897}{1100}{1005}{1103}
\br{dsaf}{864}{1074}{900}{1062}
\br{dsaf}{864}{1074}{910}{1085}
\br{dsaf}{910}{1085}{935}{1081}
\br{dsaf}{910}{1085}{935}{1089}
\br{dsaf}{935}{1081}{1037}{1078}
\br{dsaf}{935}{1081}{1037}{1083}
\br{dsaf}{935}{1089}{1037}{1087}
\br{dsaf}{935}{1089}{1037}{1091}
\br{dsaf}{900}{1062}{929}{1055}
\br{dsaf}{900}{1062}{1018}{1074}
\br{dsaf}{929}{1055}{955}{1047}
\br{dsaf}{929}{1055}{1028}{1070}
\br{dsaf}{955}{1047}{985}{1041}
\br{dsaf}{955}{1047}{970}{1059}
\br{dsaf}{985}{1041}{1010}{1040}
\br{dsaf}{985}{1041}{1012}{1047}
\br{dsaf}{1010}{1040}{1015}{1036}
\br{dsaf}{1010}{1040}{1015}{1043}
\br{dsaf}{970}{1059}{1040}{1054}
\br{dsaf}{970}{1059}{1010}{1063}
\br{dsaf}{1010}{1063}{1022}{1061}
\br{dsaf}{1010}{1063}{1022}{1066}
% box 4
\br{dnam}{736}{1168}{848}{1157}
\br{dnga}{736}{1168}{1002}{1179}
\br{dnam}{848}{1157}{932}{1143}
\br{dzam}{848}{1157}{938}{1171}
\br{dnam}{932}{1143}{950}{1137}
\br{dbot}{932}{1143}{953}{1150}
\br{dnam}{950}{1137}{966}{1133}
\br{dnam}{950}{1137}{1035}{1141}
\br{dnam}{966}{1133}{1015}{1130}
\br{dzim}{966}{1133}{1030}{1135}
\br{dbot}{953}{1150}{985}{1147}
\br{dbot}{953}{1150}{1025}{1153}
\br{dbot}{985}{1147}{1005}{1146}
\br{dbot}{985}{1147}{1005}{1149}
\br{dzam}{938}{1171}{975}{1163}
\br{dzam}{938}{1171}{1008}{1176}
\br{dzam}{975}{1163}{1007}{1159}
\br{dzam}{975}{1163}{1002}{1168}
\br{dzam}{1007}{1159}{1022}{1157}
\br{dzam}{1007}{1159}{1022}{1161}
\br{dzam}{1002}{1168}{1020}{1166}
\br{dzam}{1002}{1168}{1020}{1170}
% lower clades
\br{dken}{622}{1286}{663}{1267}
\br{deth}{622}{1286}{737}{1305}
\br{dken}{663}{1267}{708}{1252}
\br{duga}{663}{1267}{735}{1282}
\br{dcam}{708}{1252}{940}{1233}
\br{dken}{708}{1252}{1008}{1271}
\br{dken}{1008}{1271}{1020}{1266}
\br{dken}{1008}{1271}{1020}{1271}
\br{duga}{735}{1282}{988}{1278}
\br{duga}{735}{1282}{855}{1284}
\br{duga}{988}{1278}{1002}{1276}
\br{duga}{988}{1278}{1002}{1281}
\br{duga}{855}{1284}{1025}{1282}
\br{duga}{855}{1284}{995}{1287}
\br{deth}{737}{1305}{898}{1297}
\br{deth}{737}{1305}{1018}{1311}
\br{deth}{898}{1297}{1025}{1293}
\br{dsud}{898}{1297}{1003}{1302}
\draw[deth] (1025,1290)--(1025,1296);
\draw[dsud] (1003,1299)--(1003,1305);
% box 5
\br{dcam}{940}{1233}{955}{1215}
\br{dcam}{940}{1233}{961}{1248}
\br{dken}{955}{1215}{969}{1203}
\br{dcam}{955}{1215}{1007}{1227}
\br{dken}{969}{1203}{988}{1195}
\br{dken}{969}{1203}{1031}{1210}
\br{dcam}{969}{1203}{1033}{1216}
\br{dken}{988}{1195}{1007}{1190}
\br{dnga}{988}{1195}{1013}{1200}
\br{dken}{1007}{1190}{1040}{1187}
\br{dsud}{1007}{1190}{1035}{1192}
\br{dnga}{1013}{1200}{1035}{1197}
\br{dnga}{1013}{1200}{1040}{1204}
\br{dcam}{1007}{1227}{1025}{1221}
\br{dcam}{1007}{1227}{1025}{1226}
\br{dcam}{1007}{1227}{1025}{1231}
\br{degy}{961}{1248}{1037}{1242}
\br{deth}{961}{1248}{1012}{1255}
\br{deth}{1012}{1255}{1040}{1252}
\br{dsud}{1012}{1255}{1035}{1260}
% support values D
\sv{svD}{863}{937}{1}\sv{svD}{894}{923}{1}\sv{svD}{938}{913}{1}\sv{svD}{951}{895}{0.3}
\sv{svD}{947}{906}{0.4}\sv{svD}{930}{944}{0.6}\sv{svD}{905}{951}{1}
\sv{svD}{938}{984}{0.5}\sv{svD}{965}{980}{0.9}\sv{svD}{981}{976}{0.95}\sv{svD}{932}{1000}{0.77}
\sv{svD}{919}{1014}{1}\sv{svD}{957}{1013}{1}\sv{svD}{951}{1025}{1}
\sv{svD}{987}{1046}{1}\sv{svD}{958}{1052}{1}\sv{svD}{973}{1061}{0.7}\sv{svD}{934}{1063}{1}
\sv{svD}{904}{1069}{1}\sv{svD}{869}{1080}{1}\sv{svD}{837}{1089}{0.77}\sv{svD}{821}{1102}{1}
\sv{svD}{803}{1115}{1}
\sv{svD}{953}{1138}{0.5}\sv{svD}{935}{1144}{1}\sv{svD}{853}{1159}{1}\sv{svD}{978}{1165}{1}
\sv{svD}{941}{1173}{1}\sv{svD}{992}{1197}{1}\sv{svD}{973}{1205}{0.8}\sv{svD}{957}{1216}{0.78}
\sv{svD}{946}{1234}{1}\sv{svD}{965}{1249}{0.95}
% clade labels D
\sv{clA}{817}{925}{II}\sv{clA}{900}{1003}{IV}\sv{clA}{785}{1099}{I}\sv{clA}{832}{1146}{III}
\sv{clA}{785}{1189}{V}\sv{clA}{913}{1221}{VII}\sv{clA}{905}{1265}{IX}\sv{clA}{843}{1278}{XII}
\sv{clA}{815}{1288}{X}\sv{clA}{883}{1296}{XIII}\sv{clA}{833}{1310}{XIV}
% axis D
\draw[axl] (595,1315)--(1045,1315);
\tk{611}{1315}{1600}{yr}\tk{715}{1315}{1700}{yr}\tk{818}{1315}{1800}{yr}
\tk{922}{1315}{1900}{yr}\tk{1025}{1315}{2000}{yr}
\foreach \xx in {663,767,870,974} {\draw[axl] (\xx,1315)--(\xx,1318);}
\end{tikzpicture}
\end{document}
